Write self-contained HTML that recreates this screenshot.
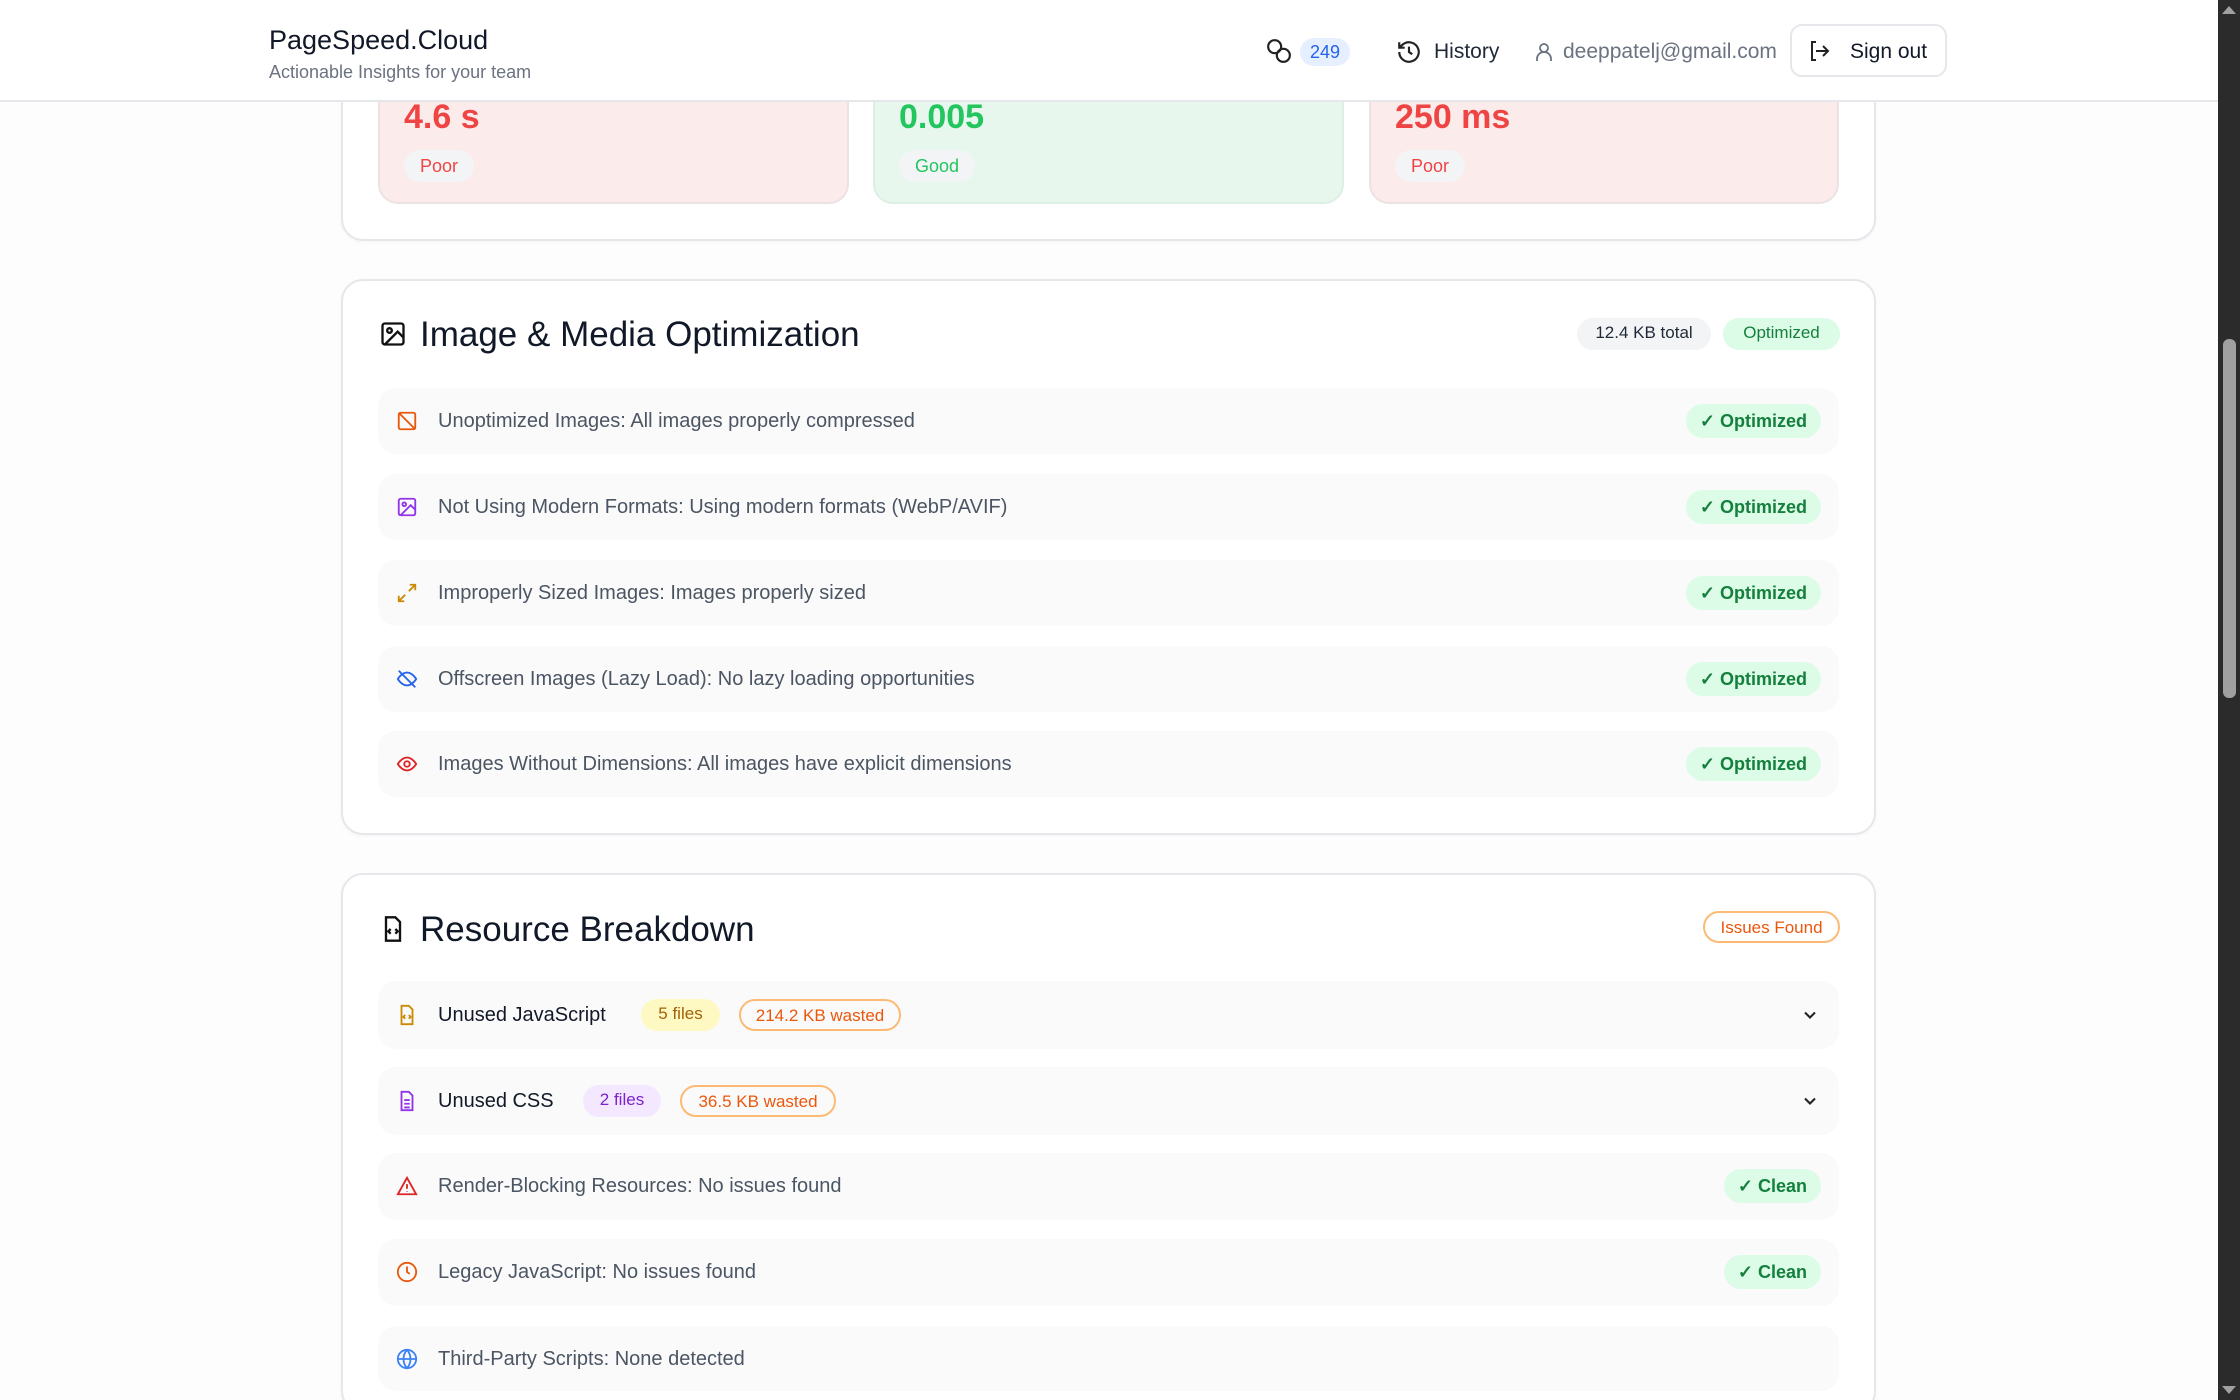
<!DOCTYPE html>
<html style="width:2240px;height:1400px;overflow:hidden"><head><meta charset="utf-8"><style>
*{box-sizing:border-box;margin:0;padding:0}
body{width:2240px;height:1400px;overflow:hidden;background:#fdfdfd;font-family:"Liberation Sans",sans-serif;position:relative;color:#111827}
.a{position:absolute}
.card{position:absolute;background:#fff;border:2px solid #e5e7eb;border-radius:22px;box-shadow:0 1px 3px rgba(0,0,0,.04)}
.m{position:absolute;top:40px;height:164px;border:2px solid #ebe3e3;border-radius:20px}
.val{position:absolute;left:24px;top:56px;font-size:34px;font-weight:bold}
.pill{position:absolute;left:24px;top:108px;height:32px;line-height:32px;padding:0 16px;border-radius:16px;background:#f3f4f6;font-size:18px;font-weight:500}
.row{position:absolute;left:378px;width:1461px;height:66px;background:#fafafa;border-radius:18px}
.row .t{position:absolute;left:60px;top:0;line-height:66px;font-size:20px;color:#4b5563}
.row .ic{position:absolute;left:18px;top:22px;width:22px;height:22px}
.ok{position:absolute;right:18px;top:16px;height:34px;line-height:34px;padding:0 14px;border-radius:17px;background:#dcfce7;color:#15803d;font-size:18px;font-weight:bold}
.h2{position:absolute;font-size:35px;font-weight:500;color:#111827}
.tag{position:absolute;height:32px;line-height:30px;padding:0 14px;border-radius:16px;font-size:17px;font-weight:500}
</style></head><body>

<div class="card" style="left:341px;top:-40px;width:1535px;height:281px"></div>
<div class="m" style="left:378px;width:471px;background:#fcebeb"><div class="val" style="color:#ef4444">4.6 s</div><div class="pill" style="color:#ef4444">Poor</div></div>
<div class="m" style="left:873px;width:471px;background:#e8f7ee;border-color:#dcefe3"><div class="val" style="color:#22c55e">0.005</div><div class="pill" style="color:#22c55e">Good</div></div>
<div class="m" style="left:1369px;width:470px;background:#fcebeb"><div class="val" style="color:#ef4444">250 ms</div><div class="pill" style="color:#ef4444">Poor</div></div>

<div class="a" style="left:0;top:0;width:2218px;height:102px;background:rgba(255,255,255,.97);border-bottom:2px solid #e5e7eb"></div>
<div class="a" style="left:269px;top:25px;font-size:27px;font-weight:500;color:#111827">PageSpeed.Cloud</div>
<div class="a" style="left:269px;top:62px;font-size:18px;color:#6b7280">Actionable Insights for your team</div>
<svg class="a" style="left:1266px;top:38px" width="26" height="26" viewBox="0 0 24 24" fill="none" stroke="#222" stroke-width="2"><circle cx="8" cy="8" r="6"/><circle cx="16" cy="16" r="6"/></svg>
<div class="a" style="left:1300px;top:38px;width:50px;height:28px;line-height:28px;text-align:center;border-radius:14px;background:#e5efff;color:#2563eb;font-size:18px">249</div>
<svg class="a" style="left:1396px;top:39px" width="26" height="26" viewBox="0 0 24 24" fill="none" stroke="#222" stroke-width="2"><path d="M3 12a9 9 0 1 0 3-6.7L3 8"/><path d="M3 3v5h5"/><path d="M12 7v5l3 2"/></svg>
<div class="a" style="left:1434px;top:40px;font-size:21px;font-weight:500;color:#1f2937">History</div>
<svg class="a" style="left:1532px;top:39px" width="24" height="26" viewBox="0 0 24 24" fill="none" stroke="#6b7280" stroke-width="1.8"><circle cx="12" cy="8" r="4"/><path d="M5 21v-2a7 7 0 0 1 14 0v2"/></svg>
<div class="a" style="left:1563px;top:40px;font-size:21px;color:#6b7280">deeppatelj@gmail.com</div>
<div class="a" style="left:1790px;top:24px;width:157px;height:53px;border:2px solid #e5e7eb;border-radius:12px;background:#fff"></div>
<svg class="a" style="left:1807px;top:39px" width="24" height="24" viewBox="0 0 24 24" fill="none" stroke="#222" stroke-width="2"><path d="M9 21H5V3h4"/><path d="M16 17l5-5-5-5"/><path d="M21 12H9"/></svg>
<div class="a" style="left:1850px;top:40px;font-size:21px;font-weight:500;color:#111827">Sign out</div>

<div class="card" style="left:341px;top:279px;width:1535px;height:556px"></div>
<svg class="a" style="left:379px;top:320px" width="28" height="28" viewBox="0 0 24 24" fill="none" stroke="#111" stroke-width="2"><rect x="3" y="3" width="18" height="18" rx="2"/><circle cx="9" cy="9" r="2"/><path d="M21 15l-5-5L5 21"/></svg>
<div class="h2" style="left:420px;top:315px">Image &amp; Media Optimization</div>
<div class="tag" style="left:1577px;top:318px;width:134px;background:#f3f4f6;color:#1f2937;text-align:center">12.4 KB total</div>
<div class="tag" style="left:1723px;top:318px;width:117px;background:#dcfce7;color:#15803d;text-align:center">Optimized</div>

<div class="row" style="top:388px"><svg class="ic" viewBox="0 0 24 24" fill="none" stroke="#ea580c" stroke-width="2"><rect x="3" y="3" width="18" height="18" rx="2"/><path d="M3 3l18 18"/></svg><div class="t">Unoptimized Images: All images properly compressed</div><div class="ok">✓ Optimized</div></div>
<div class="row" style="top:474px"><svg class="ic" viewBox="0 0 24 24" fill="none" stroke="#9333ea" stroke-width="2"><rect x="3" y="3" width="18" height="18" rx="2"/><circle cx="9" cy="9" r="2"/><path d="M21 15l-5-5L5 21"/></svg><div class="t">Not Using Modern Formats: Using modern formats (WebP/AVIF)</div><div class="ok">✓ Optimized</div></div>
<div class="row" style="top:560px"><svg class="ic" viewBox="0 0 24 24" fill="none" stroke="#ca8a04" stroke-width="2"><path d="M15 3h6v6M9 21H3v-6M21 3l-7 7M3 21l7-7"/></svg><div class="t">Improperly Sized Images: Images properly sized</div><div class="ok">✓ Optimized</div></div>
<div class="row" style="top:646px"><svg class="ic" viewBox="0 0 24 24" fill="none" stroke="#2563eb" stroke-width="2"><path d="M2 12s4-7 10-7 10 7 10 7-4 7-10 7S2 12 2 12z"/><path d="M3 3l18 18"/></svg><div class="t">Offscreen Images (Lazy Load): No lazy loading opportunities</div><div class="ok">✓ Optimized</div></div>
<div class="row" style="top:731px"><svg class="ic" viewBox="0 0 24 24" fill="none" stroke="#dc2626" stroke-width="2"><path d="M2 12s4-7 10-7 10 7 10 7-4 7-10 7S2 12 2 12z"/><circle cx="12" cy="12" r="3"/></svg><div class="t">Images Without Dimensions: All images have explicit dimensions</div><div class="ok">✓ Optimized</div></div>

<div class="card" style="left:341px;top:873px;width:1535px;height:540px"></div>
<svg class="a" style="left:379px;top:914px" width="28" height="30" viewBox="0 0 24 24" fill="none" stroke="#111" stroke-width="2"><path d="M14 2H6v20h12V6z"/><path d="M10 12l-2 2 2 2M14 12l2 2-2 2"/></svg>
<div class="h2" style="left:420px;top:910px">Resource Breakdown</div>
<div class="tag" style="left:1703px;top:911px;width:137px;border:2px solid #fdba74;color:#ea580c;text-align:center;background:#fff">Issues Found</div>

<div class="row" style="top:981px;height:68px"><svg class="ic" style="top:23px" viewBox="0 0 24 24" fill="none" stroke="#ca8a04" stroke-width="2"><path d="M14 2H6v20h12V6z"/><path d="M10 12l-2 2 2 2M14 12l2 2-2 2"/></svg><div class="t" style="line-height:68px;color:#111827;font-weight:500">Unused JavaScript</div>
<div class="tag" style="left:263px;top:18px;width:79px;background:#fef9c3;color:#a16207;text-align:center">5 files</div>
<div class="tag" style="left:361px;top:18px;width:162px;border:2px solid #fdba74;color:#ea580c;text-align:center">214.2 KB wasted</div>
<svg class="a" style="left:1422px;top:24px" width="20" height="20" viewBox="0 0 24 24" fill="none" stroke="#222" stroke-width="2.5"><path d="M6 9l6 6 6-6"/></svg></div>
<div class="row" style="top:1067px;height:68px"><svg class="ic" style="top:23px" viewBox="0 0 24 24" fill="none" stroke="#9333ea" stroke-width="2"><path d="M14 2H6v20h12V6z"/><path d="M9 11h6M9 15h6M9 19h6"/></svg><div class="t" style="line-height:68px;color:#111827;font-weight:500">Unused CSS</div>
<div class="tag" style="left:205px;top:18px;width:78px;background:#f3e8ff;color:#7e22ce;text-align:center">2 files</div>
<div class="tag" style="left:302px;top:18px;width:156px;border:2px solid #fdba74;color:#ea580c;text-align:center">36.5 KB wasted</div>
<svg class="a" style="left:1422px;top:24px" width="20" height="20" viewBox="0 0 24 24" fill="none" stroke="#222" stroke-width="2.5"><path d="M6 9l6 6 6-6"/></svg></div>
<div class="row" style="top:1153px;height:67px"><svg class="ic" viewBox="0 0 24 24" fill="none" stroke="#dc2626" stroke-width="2"><path d="M12 3L2 21h20z"/><path d="M12 10v5M12 18v.5"/></svg><div class="t">Render-Blocking Resources: No issues found</div><div class="ok">✓ Clean</div></div>
<div class="row" style="top:1239px;height:67px"><svg class="ic" viewBox="0 0 24 24" fill="none" stroke="#ea580c" stroke-width="2"><circle cx="12" cy="12" r="10"/><path d="M12 6v6l3 2"/></svg><div class="t">Legacy JavaScript: No issues found</div><div class="ok">✓ Clean</div></div>
<div class="row" style="top:1326px;height:65px"><svg class="ic" viewBox="0 0 24 24" fill="none" stroke="#3b82f6" stroke-width="2"><circle cx="12" cy="12" r="10"/><path d="M2 12h20M12 2a15 15 0 0 1 0 20a15 15 0 0 1 0-20"/></svg><div class="t">Third-Party Scripts: None detected</div></div>

<div class="a" style="left:2218px;top:0;width:22px;height:1400px;background:#2b2b2b"></div>
<div class="a" style="left:2223px;top:339px;width:13px;height:359px;background:#a0a0a0;border-radius:6px"></div>
<div class="a" style="left:2222px;top:6px;width:0;height:0;border-left:7px solid transparent;border-right:7px solid transparent;border-bottom:8px solid #a0a0a0"></div>
<div class="a" style="left:2222px;top:1386px;width:0;height:0;border-left:7px solid transparent;border-right:7px solid transparent;border-top:8px solid #a0a0a0"></div>
</body></html>
